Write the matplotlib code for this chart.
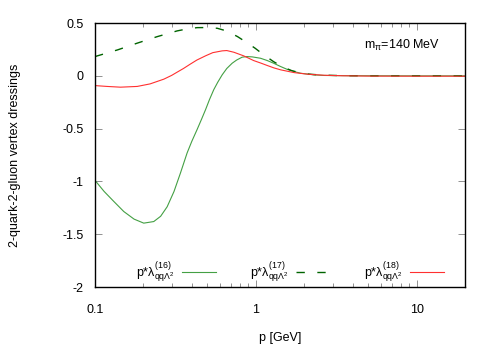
import matplotlib
matplotlib.use("Agg")
import matplotlib.pyplot as plt
from matplotlib.ticker import FixedLocator, LogLocator, NullFormatter

plt.rcParams['font.family'] = ['Liberation Sans', 'DejaVu Sans']
plt.rcParams['mathtext.fontset'] = 'custom'
plt.rcParams['mathtext.rm'] = 'Liberation Sans'
plt.rcParams['mathtext.it'] = 'Liberation Sans'

# lambda^(16), solid green
p16 = [0.1, 0.114, 0.131, 0.151, 0.175, 0.201, 0.232, 0.256, 0.281, 0.31, 0.34, 0.374,
       0.40, 0.431, 0.46, 0.487, 0.515, 0.548, 0.58, 0.618, 0.66, 0.713, 0.76, 0.822,
       0.88, 0.95, 1.07, 1.18, 1.29, 1.42, 1.56, 1.72, 1.9, 2.29, 2.66, 3.5, 5.0, 10.0, 20.0]
v16 = [-0.99, -1.095, -1.19, -1.285, -1.357, -1.395, -1.38, -1.33, -1.24, -1.095, -0.92, -0.73,
       -0.62, -0.51, -0.41, -0.32, -0.225, -0.13, -0.06, 0.01, 0.07, 0.12, 0.15, 0.177,
       0.183, 0.18, 0.167, 0.145, 0.12, 0.09, 0.063, 0.042, 0.025, 0.01, 0.004, 0.002, 0.001, 0.0, 0.0]

# lambda^(17), dashed dark green
p17 = [0.1, 0.138, 0.183, 0.244, 0.324, 0.38, 0.432, 0.5, 0.576, 0.66, 0.77, 0.88, 0.99,
       1.13, 1.29, 1.47, 1.67, 1.9, 2.16, 2.6, 3.5, 5.0, 10.0, 20.0]
v17 = [0.183, 0.246, 0.31, 0.372, 0.426, 0.447, 0.457, 0.458, 0.451, 0.425, 0.372, 0.315, 0.262,
       0.195, 0.135, 0.085, 0.05, 0.028, 0.016, 0.007, 0.002, 0.0, 0.0, 0.0]

# lambda^(18), red
p18 = [0.1, 0.119, 0.144, 0.183, 0.22, 0.268, 0.30, 0.324, 0.355, 0.39, 0.43, 0.487, 0.54,
       0.618, 0.66, 0.73, 0.84, 0.97, 1.08, 1.18, 1.3, 1.43, 1.73, 2.1, 2.66, 3.5, 5.0, 10.0, 20.0]
v18 = [-0.092, -0.10, -0.107, -0.10, -0.076, -0.031, 0.005, 0.035, 0.07, 0.11, 0.15, 0.19, 0.22,
       0.237, 0.24, 0.224, 0.19, 0.145, 0.12, 0.098, 0.075, 0.057, 0.031, 0.016, 0.006, 0.001,
       -0.002, -0.003, -0.003]

labels = [r'p*$\lambda^{(16)}_{qq\Lambda^2}$',
          r'p*$\lambda^{(17)}_{qq\Lambda^2}$',
          r'p*$\lambda^{(18)}_{qq\Lambda^2}$']
yticks = [0.5, 0, -0.5, -1, -1.5, -2]
ytick_labels = ['0.5', '0', '-0.5', '-1', '-1.5', '-2']

fig = plt.figure(figsize=(5, 3.5), dpi=100)
ax = fig.add_axes([0.19, 0.18, 0.74, 0.754])

ax.plot(p16, v16, color='#44a044', lw=0.8, label=labels[0])
ax.plot(p17, v17, color='#006400', lw=1.0, dashes=(6, 9), label=labels[1])
ax.plot(p18, v18, color='#ff3030', lw=0.8, label=labels[2])

ax.set_xscale('log')
ax.set_xlim(0.1, 20)
ax.set_ylim(-2, 0.5)
ax.set_xticks([0.1, 1, 10])
ax.set_xticklabels(['0.1', '1', '10'])
ax.xaxis.set_minor_locator(LogLocator(base=10, subs=range(2, 10)))
ax.xaxis.set_minor_formatter(NullFormatter())
ax.yaxis.set_major_locator(FixedLocator(yticks))
ax.set_yticklabels(ytick_labels)

ax.tick_params(which='both', direction='in', top=True, right=True, labelsize=9)
ax.tick_params(axis='y', pad=8)
ax.tick_params(axis='x', pad=12)
ax.tick_params(which='major', length=5, width=0.6, color='#808080')
ax.tick_params(which='minor', length=3, width=0.6, color='#808080')
for s in ax.spines.values():
    s.set_linewidth(1.0)

ax.set_xlabel('p [GeV]', fontsize=9, labelpad=12)
ax.set_ylabel('2-quark-2-gluon vertex dressings', fontsize=9, labelpad=30)

ax.text(0.932, 0.915, r'm$_\pi$=140 MeV', transform=ax.transAxes, ha='right', va='center', fontsize=9)

ax.legend(loc='lower center', bbox_to_anchor=(0.527, -0.02), ncol=3, frameon=False, markerfirst=False,
          fontsize=9, handlelength=2.7, columnspacing=2.7, handletextpad=0.6, borderaxespad=0.2)

fig.savefig('out.png', dpi=100)
